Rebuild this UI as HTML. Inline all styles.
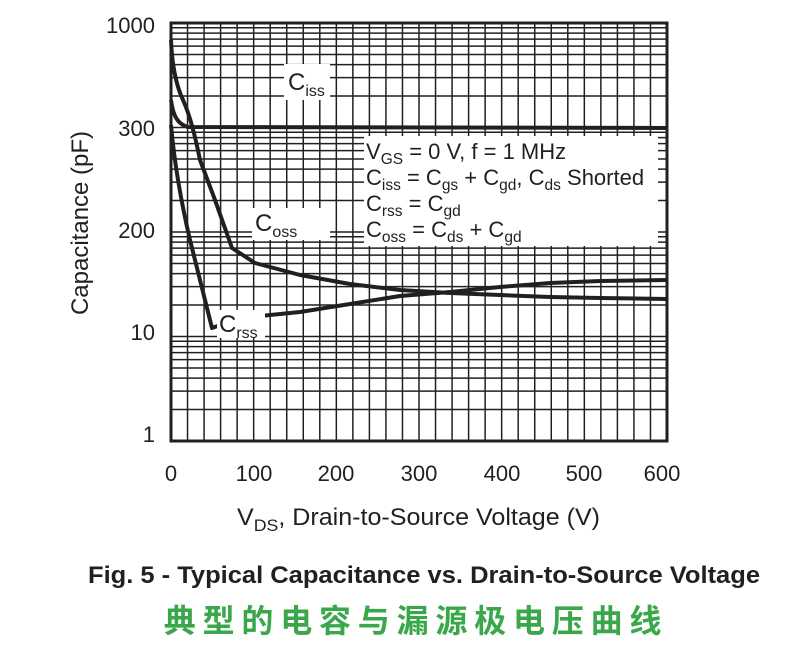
<!DOCTYPE html>
<html><head><meta charset="utf-8"><style>
body{margin:0;background:#fff;width:801px;height:652px;overflow:hidden}
svg{position:absolute;left:0;top:0}
text{font-family:"Liberation Sans",Arial,sans-serif;fill:#231f20}
</style></head><body>
<svg width="801" height="652" viewBox="0 0 801 652" id="s">
<g id="grid" stroke="#231f20" stroke-width="1.5"></g>
<rect x="171" y="23" width="496" height="418" fill="none" stroke="#231f20" stroke-width="3"/>
<g fill="none" stroke="#231f20" stroke-width="4" stroke-linejoin="round">
<path d="M171,100 C173,115 177,124 188,127 L667,128"/>
<path d="M171,40 C172,65 176,85 183,100 C190,115 195,135 200,160 L215,200 L232,248 L255,263 L300,275 L350,284 L400,290 L450,293 L500,295 L550,297 L600,298 L667,299"/>
<path d="M171,125 C175,170 183,210 190,240 L212,328 L240,318 L300,312 L350,304 L400,296 L450,292 L500,287 L550,283 L600,281 L667,280"/>
</g>
<rect x="284" y="64" width="46" height="36" fill="#fff"/>
<text x="288" y="90" font-size="24">C<tspan font-size="16" dy="6">iss</tspan></text>
<rect x="252" y="208" width="78" height="32" fill="#fff"/>
<text x="255" y="231" font-size="24">C<tspan font-size="16" dy="6">oss</tspan></text>
<rect x="217" y="310" width="48" height="28" fill="#fff"/>
<text x="219" y="332" font-size="24">C<tspan font-size="16" dy="6">rss</tspan></text>
<rect x="364" y="136" width="294" height="110" fill="#fff"/>
<g font-size="22">
<text x="366" y="159">V<tspan font-size="15.5" dy="5">GS</tspan><tspan dy="-5"> = 0 V, f = 1 MHz</tspan></text>
<text x="366" y="185">C<tspan font-size="15.5" dy="5">iss</tspan><tspan dy="-5"> = C</tspan><tspan font-size="15.5" dy="5">gs</tspan><tspan dy="-5"> + C</tspan><tspan font-size="15.5" dy="5">gd</tspan><tspan dy="-5">, C</tspan><tspan font-size="15.5" dy="5">ds</tspan><tspan dy="-5"> Shorted</tspan></text>
<text x="366" y="211">C<tspan font-size="15.5" dy="5">rss</tspan><tspan dy="-5"> = C</tspan><tspan font-size="15.5" dy="5">gd</tspan></text>
<text x="366" y="237">C<tspan font-size="15.5" dy="5">oss</tspan><tspan dy="-5"> = C</tspan><tspan font-size="15.5" dy="5">ds</tspan><tspan dy="-5"> + C</tspan><tspan font-size="15.5" dy="5">gd</tspan></text>
</g>
<g font-size="22" text-anchor="end">
<text x="155" y="33">1000</text><text x="155" y="136">300</text><text x="155" y="238">200</text><text x="155" y="340">10</text><text x="155" y="442">1</text>
</g>
<g font-size="22" text-anchor="middle">
<text x="171" y="481">0</text><text x="254" y="481">100</text><text x="336" y="481">200</text><text x="419" y="481">300</text><text x="502" y="481">400</text><text x="584" y="481">500</text><text x="662" y="481">600</text>
</g>
<text transform="translate(88,223) rotate(-90)" font-size="24" text-anchor="middle">Capacitance (pF)</text>
<text x="237" y="525" font-size="24" textLength="363" lengthAdjust="spacingAndGlyphs">V<tspan font-size="17" dy="6">DS</tspan><tspan dy="-6">, Drain-to-Source Voltage (V)</tspan></text>
<text x="88" y="583" font-size="24" font-weight="bold" textLength="672" lengthAdjust="spacingAndGlyphs">Fig. 5 - Typical Capacitance vs. Drain-to-Source Voltage</text>
<text x="416" y="632" font-size="32" font-weight="bold" text-anchor="middle" letter-spacing="6.8" style="fill:#3aa84a;font-family:'Noto Sans CJK SC','WenQuanYi Zen Hei',sans-serif">典型的电容与漏源极电压曲线</text>
</svg>
<script>
var g=document.getElementById('grid'),h='';
for(var i=1;i<30;i++){var x=171+i*496/30;h+='<line x1="'+x+'" y1="23" x2="'+x+'" y2="441"/>';}
for(var d=0;d<4;d++)for(var k=1;k<=9;k++){if(d==0&&k==1)continue;var y=441-104.5*(d+Math.log10(k));h+='<line x1="171" y1="'+y+'" x2="667" y2="'+y+'"/>';}
g.innerHTML=h;
</script>
</body></html>
